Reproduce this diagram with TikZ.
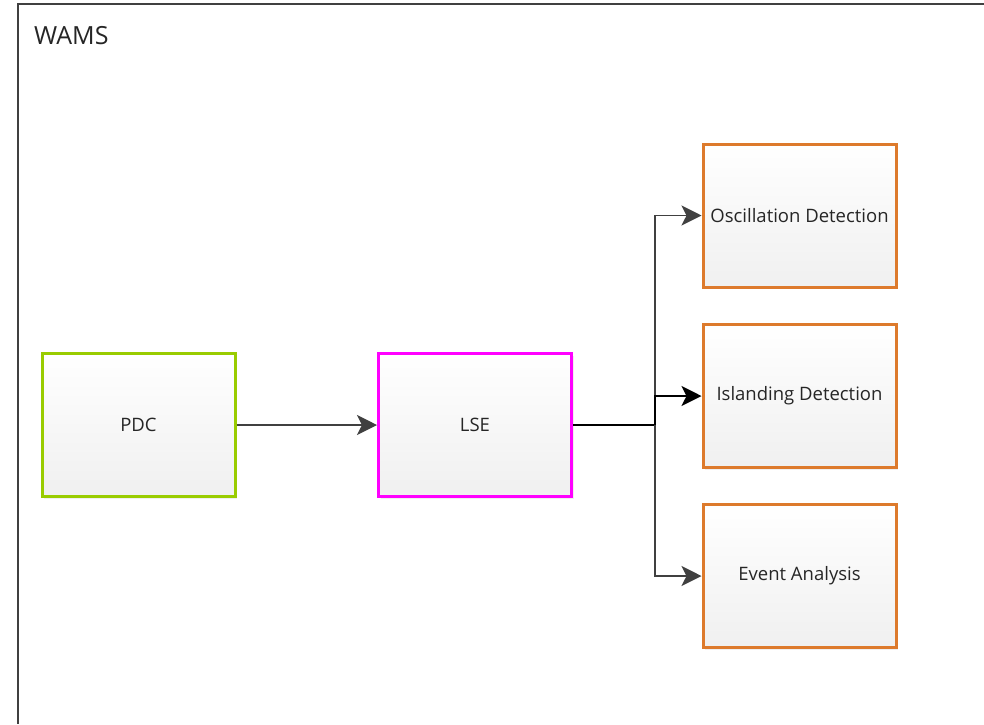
\documentclass[tikz,border=0pt]{standalone}
\usepackage{fontspec}
\setmainfont{Open Sans}
\usetikzlibrary{arrows.meta,shadows}
\definecolor{framegray}{HTML}{404040}
\definecolor{txtgray}{HTML}{262626}
\definecolor{pdcgreen}{HTML}{99CC00}
\definecolor{lsemag}{HTML}{FF00FF}
\definecolor{apporange}{HTML}{DD7A2C}
\definecolor{linegray}{HTML}{404040}
\tikzset{
  block/.style={rectangle, line width=3pt, minimum width=193pt, minimum height=143pt,
    top color=white, bottom color=black!6, text=txtgray, inner sep=0pt,
    font=\fontsize{18.5}{21}\selectfont,
    drop shadow={opacity=0.12, shadow xshift=2pt, shadow yshift=-2pt}},
  link/.style={draw=linegray, line width=1.5pt},
  arrowlink/.style={link, -{Stealth[length=20pt,width=20pt,inset=5pt]}}
}
\begin{document}
\begin{tikzpicture}[x=1pt,y=-1pt]
  \useasboundingbox (0,0) rectangle (984,724);
  \fill[white] (0,0) rectangle (984,724);
  % container frame (open to the right and bottom)
  \draw[framegray, line width=1.8pt] (984,4) -- (18,4) -- (18,724);
  \node[anchor=west, text=txtgray, font=\fontsize{25}{28}\selectfont, inner sep=0pt] (wams) at (34,36) {WAMS};

  % blocks
  \node[block, draw=pdcgreen] (pdc) at (138.5,425) {PDC};
  \node[block, draw=lsemag] (lse) at (475,425) {LSE};
  \node[block, draw=apporange] (osc) at (799.5,215.5) {Oscillation Detection};
  \node[block, draw=apporange] (isl) at (799.5,396) {Islanding Detection};
  \node[block, draw=apporange] (evt) at (799.5,576) {Event Analysis};

  % connectors
  \coordinate (fork) at (655,425);
  \draw[arrowlink] (pdc) -- (lse);
  \draw[link, draw=black] (lse) -- (fork);
  \draw[arrowlink] (fork) |- (osc);
  \draw[arrowlink, draw=black] (fork) |- (isl);
  \draw[arrowlink] (fork) |- (evt);
\end{tikzpicture}
\end{document}
